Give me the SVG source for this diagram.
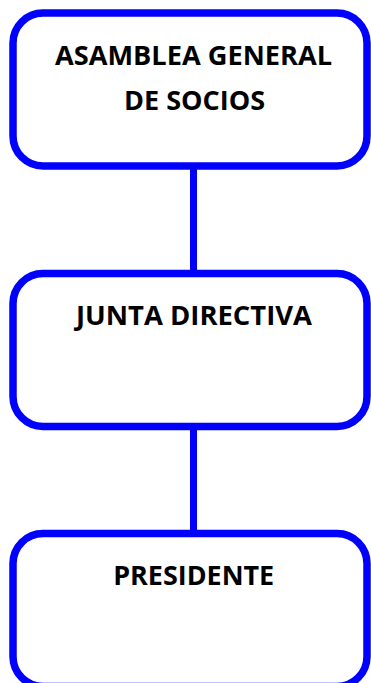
<svg xmlns="http://www.w3.org/2000/svg" width="371" height="683" viewBox="0 0 371 683">
<style>
.box{fill:#fff;stroke:#0000ff;stroke-width:7.5}
.conn{stroke:#0000ff;stroke-width:7;fill:none}
.lbl{font-family:"Open Sans","Noto Sans","DejaVu Sans",sans-serif;font-weight:bold;font-size:26px;fill:#000;text-anchor:middle}
</style>
<rect width="371" height="683" fill="#fff"/>
<g id="connectors">
<line class="conn" x1="193.5" y1="166" x2="193.5" y2="273"/>
<line class="conn" x1="193.5" y1="427" x2="193.5" y2="533"/>
</g>
<g id="node-asamblea">
<rect class="box" x="13" y="13" width="354" height="153" rx="30" ry="30"/>
<text class="lbl" x="193.5" y="65" textLength="277" lengthAdjust="spacingAndGlyphs">ASAMBLEA GENERAL</text>
<text class="lbl" x="194.5" y="110" textLength="141" lengthAdjust="spacingAndGlyphs">DE SOCIOS</text>
</g>
<g id="node-junta">
<rect class="box" x="13" y="273.5" width="354" height="153" rx="30" ry="30"/>
<text class="lbl" x="194" y="325" textLength="236" lengthAdjust="spacingAndGlyphs">JUNTA DIRECTIVA</text>
</g>
<g id="node-presidente">
<rect class="box" x="13" y="533.5" width="354" height="153" rx="30" ry="30"/>
<text class="lbl" x="193.7" y="585" textLength="161" lengthAdjust="spacingAndGlyphs">PRESIDENTE</text>
</g>
</svg>
